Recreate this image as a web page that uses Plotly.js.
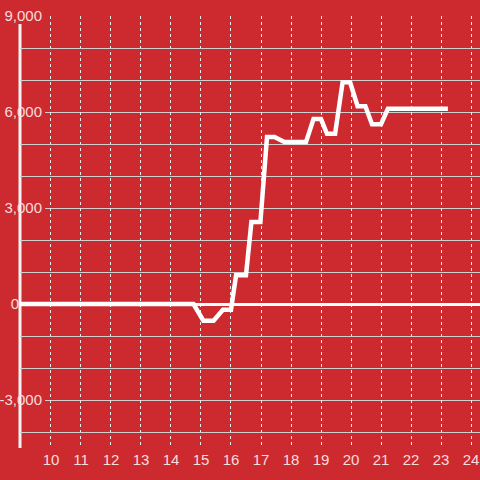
<!DOCTYPE html>
<html>
<head>
<meta charset="utf-8">
<script src="https://cdn.plot.ly/plotly-3.0.1.min.js"></script>
<style>html,body{margin:0;padding:0;background:#cd2a2f;}#chart{width:480px;height:480px;}</style>
</head>
<body>
<div id="chart"></div>
<script>
// Data (hour of day, value)
const hours = [8.97, 14.75, 15.08, 15.42, 15.73, 16.0, 16.17, 16.5, 16.68, 16.98, 17.2, 17.45, 17.78, 18.5, 18.75, 19.0, 19.2, 19.47, 19.72, 19.97, 20.22, 20.48, 20.7, 21.0, 21.23, 23.23];
const values = [0, 0, -520, -520, -180, -180, 900, 900, 2560, 2560, 5220, 5220, 5060, 5060, 5780, 5780, 5320, 5320, 6930, 6930, 6180, 6180, 5620, 5620, 6100, 6100];

// Axis ticks
const xTicks = [10, 11, 12, 13, 14, 15, 16, 17, 18, 19, 20, 21, 22, 23, 24];
const yLabelVals = [9000, 6000, 3000, -3000];
const yLabelText = ['9,000', '6,000', '3,000', '-3,000'];
const yOtherVals = [8000, 7000, 5000, 4000, 2000, 1000, 0, -1000, -2000, -4000];
const yOtherText = ['', '', '', '', '', '', '0', '', '', ''];

const bg = '#cd2a2f';
const txt = '#f8dede';
const font = {family: 'Liberation Sans, Arial, sans-serif', size: 15, color: txt};
const yRange = [-4500, 9000];
const xRange = [8.967, 24.3];

const traces = [
  {x: [], y: [], xaxis: 'x', yaxis: 'y', type: 'scatter', mode: 'lines', showlegend: false, hoverinfo: 'skip'},
  {x: hours, y: values, xaxis: 'x2', yaxis: 'y2', type: 'scatter', mode: 'lines',
   line: {color: '#ffffff', width: 4.5}, showlegend: false, hoverinfo: 'skip'}
];

const layout = {
  width: 480, height: 480,
  margin: {l: 20, r: 0, t: 16, b: 32},
  paper_bgcolor: bg,
  plot_bgcolor: 'rgba(0,0,0,0)',
  font: font,
  showlegend: false,
  // labelled gridlines subplot (starts right of the labels)
  xaxis: {domain: [25/460, 1], anchor: 'y', range: [xRange[0] + 25/30, xRange[1]],
          showgrid: false, zeroline: false, showticklabels: false, showline: false, fixedrange: true},
  yaxis: {domain: [0, 1], anchor: 'x', range: yRange, tickmode: 'array',
          tickvals: yLabelVals, ticktext: yLabelText, showgrid: true, gridcolor: '#d0d0d0', gridwidth: 1,
          zeroline: false, showline: false, ticks: '', tickfont: font, ticklabelstandoff: 2},
  // main subplot
  xaxis2: {domain: [0, 1], anchor: 'y2', range: xRange, tickmode: 'array', tickvals: xTicks,
           showgrid: true, gridcolor: '#ececec', gridwidth: 1, griddash: 'dot',
           zeroline: false, showline: false, ticks: '', tickfont: font, ticklabelstandoff: 1},
  yaxis2: {domain: [0, 1], anchor: 'x2', range: yRange, tickmode: 'array',
           tickvals: yOtherVals, ticktext: yOtherText, showgrid: true, gridcolor: '#d0d0d0', gridwidth: 1,
           zeroline: true, zerolinecolor: '#ffffff', zerolinewidth: 3, showline: false, ticks: '', tickfont: font},
  shapes: [
    {type: 'line', layer: 'below', xref: 'paper', yref: 'paper', x0: 0, x1: 0, y0: 0, y1: 424/432,
     line: {color: '#f4f4f4', width: 3}}
  ]
};

Plotly.newPlot('chart', traces, layout, {staticPlot: true, displayModeBar: false});
</script>
</body>
</html>
